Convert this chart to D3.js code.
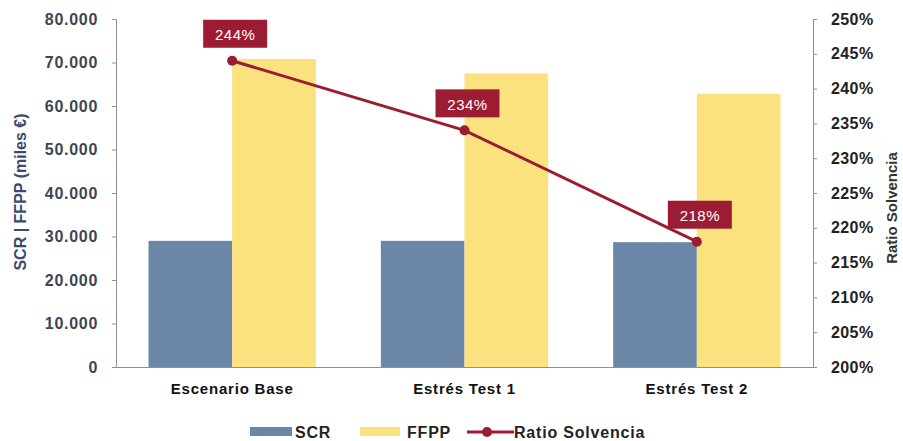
<!DOCTYPE html>
<html>
<head>
<meta charset="utf-8">
<script src="https://cdn.jsdelivr.net/npm/d3@7"></script>
<style>
  body { margin: 0; background: #fff; }
  svg text { font-family: "Liberation Sans", Arial, sans-serif; }
</style>
</head>
<body>
<svg id="chart" width="903" height="441"></svg>
<script>
// data
const categories = ["Escenario Base", "Estrés Test 1", "Estrés Test 2"];
const scr = [29000, 29000, 28700];
const ffpp = [70800, 67500, 62800];
const ratio = [244, 234, 218];
const ratioLabels = ["244%", "234%", "218%"];
const leftTicks = [0, 10000, 20000, 30000, 40000, 50000, 60000, 70000, 80000];
const rightTicks = [200, 205, 210, 215, 220, 225, 230, 235, 240, 245, 250];

const margin = { top: 19, right: 90, bottom: 74, left: 116 };
const W = 903, H = 441;
const w = W - margin.left - margin.right, h = H - margin.top - margin.bottom;

const svg = d3.select("#chart");
const g = svg.append("g").attr("transform", `translate(${margin.left},${margin.top})`);

const x = d3.scaleBand().domain(categories).range([0, w]).paddingInner(0.28).paddingOuter(0.14);
const xs = d3.scaleBand().domain(["scr", "ffpp"]).range([0, x.bandwidth()]);
const yL = d3.scaleLinear().domain([0, 80000]).range([h, 0]);
const yR = d3.scaleLinear().domain([200, 250]).range([h, 0]);

const fmt = d => d3.format(",")(d).replace(/,/g, ".");

// bars
const groups = g.selectAll(".cat").data(categories).join("g")
  .attr("transform", d => `translate(${x(d)},0)`);
groups.append("rect")
  .attr("x", xs("scr")).attr("width", xs.bandwidth())
  .attr("y", (d, i) => yL(scr[i])).attr("height", (d, i) => h - yL(scr[i]))
  .attr("fill", "#6b86a6");
groups.append("rect")
  .attr("x", xs("ffpp")).attr("width", xs.bandwidth())
  .attr("y", (d, i) => yL(ffpp[i])).attr("height", (d, i) => h - yL(ffpp[i]))
  .attr("fill", "#fbe27e");

// left axis
const ax = g.append("g").call(d3.axisLeft(yL).tickValues(leftTicks).tickFormat(fmt).tickSize(4).tickPadding(14));
ax.select(".domain").attr("stroke", "#8a9098");
ax.selectAll(".tick line").attr("stroke", "#8a9098");
ax.selectAll("text").attr("font-size", 16).attr("font-weight", "bold").attr("letter-spacing", 0.7).attr("fill", "#3b4656");

// right axis
const ar = g.append("g").attr("transform", `translate(${w},0)`)
  .call(d3.axisRight(yR).tickValues(rightTicks).tickFormat(d => d + "%").tickSize(4).tickPadding(14));
ar.select(".domain").attr("stroke", "#8a9098");
ar.selectAll(".tick line").attr("stroke", "#8a9098");
ar.selectAll("text").attr("font-size", 16).attr("font-weight", "bold").attr("letter-spacing", 0.4).attr("fill", "#222");

// bottom axis
const ab = g.append("g").attr("transform", `translate(0,${h})`)
  .call(d3.axisBottom(x).tickSize(0).tickPadding(16));
ab.select(".domain").attr("stroke", "#8a9098");
ab.selectAll("text").attr("font-size", 15).attr("font-weight", "bold").attr("letter-spacing", 0.8).attr("fill", "#111");

// line
const cx = d => x(d) + x.bandwidth() / 2;
g.append("path").datum(categories)
  .attr("fill", "none").attr("stroke", "#9c1d33").attr("stroke-width", 3)
  .attr("d", d3.line().x(d => cx(d)).y((d, i) => yR(ratio[i])));
g.selectAll(".pt").data(categories).join("circle")
  .attr("cx", d => cx(d)).attr("cy", (d, i) => yR(ratio[i])).attr("r", 5)
  .attr("fill", "#9c1d33");

// labels
const lab = g.selectAll(".lab").data(categories).join("g")
  .attr("transform", (d, i) => `translate(${cx(d) + 3},${yR(ratio[i]) - 26})`);
lab.append("rect").attr("x", -32).attr("y", -15).attr("width", 64).attr("height", 28)
  .attr("fill", "#9c1d33");
lab.append("text").attr("text-anchor", "middle").attr("dy", "0.35em")
  .attr("font-size", 15).attr("letter-spacing", 0.5).attr("fill", "#fff")
  .text((d, i) => ratioLabels[i]);

// axis titles
svg.append("text").attr("transform", "translate(20,192) rotate(-90)")
  .attr("text-anchor", "middle").attr("dy", "0.35em").attr("font-size", 16).attr("font-weight", "bold").attr("fill", "#3b4a6e")
  .text("SCR | FFPP (miles €)");
svg.append("text").attr("transform", "translate(892,208) rotate(-90)")
  .attr("text-anchor", "middle").attr("dy", "0.35em").attr("font-size", 15).attr("font-weight", "bold").attr("fill", "#333")
  .text("Ratio Solvencia");

// legend
const leg = svg.append("g").attr("transform", "translate(0,432)");
const legText = (xp, t) => leg.append("text").attr("x", xp).attr("dy", "0.35em")
  .attr("font-size", 16).attr("font-weight", "bold").attr("letter-spacing", 0.8).attr("fill", "#222").text(t);
leg.append("rect").attr("x", 250).attr("y", -5).attr("width", 42).attr("height", 9).attr("fill", "#6b86a6");
legText(295, "SCR");
leg.append("rect").attr("x", 360).attr("y", -5).attr("width", 40).attr("height", 9).attr("fill", "#fbe27e");
legText(407, "FFPP");
leg.append("line").attr("x1", 467).attr("x2", 514).attr("stroke", "#9c1d33").attr("stroke-width", 3);
leg.append("circle").attr("cx", 487).attr("r", 5).attr("fill", "#9c1d33");
legText(514, "Ratio Solvencia");
</script>
</body>
</html>
